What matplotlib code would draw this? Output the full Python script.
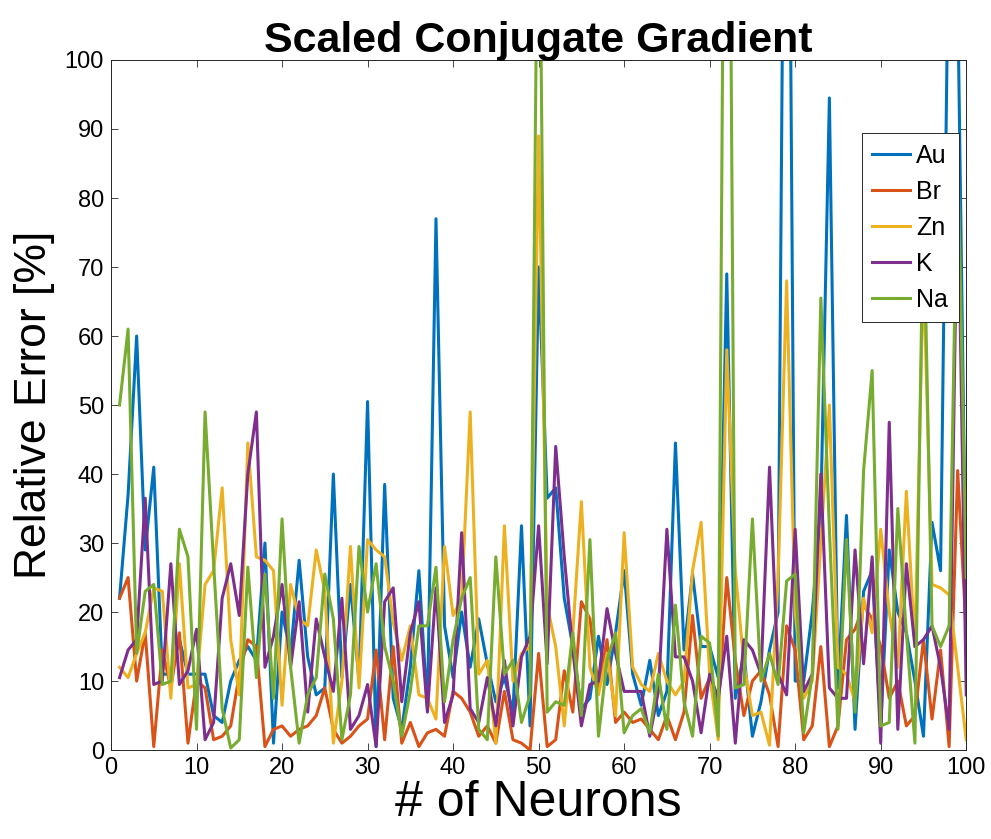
import matplotlib
matplotlib.use('Agg')
import matplotlib.pyplot as plt
import numpy as np

plt.rcParams['font.family'] = ['Liberation Sans', 'DejaVu Sans']

# 뉴런 개수별 상대 오차 [%]
neurons = list(range(1, 101))

au = [22, 37, 60, 29, 41, 11, 11, 16, 11, 11,
      11, 5, 4, 10, 13, 15, 13, 30, 1, 20,
      14, 27.5, 13.5, 8, 9, 40, 10.5, 24, 10, 50.5,
      0.5, 38.5, 7.5, 3, 12, 26, 6, 77, 18, 10.5,
      20, 12, 19, 12.5, 7, 10.5, 5.5, 32.5, 3.5, 70,
      36.5, 38, 22, 15, 6, 7.5, 16.5, 9.5, 17, 26,
      11, 6.5, 13, 5, 8.5, 44.5, 14.5, 25.5, 15, 15,
      10.5, 69, 7.5, 14, 2, 7, 14.5, 20, 185, 10,
      10, 20, 35, 94.5, 9, 34, 3, 23, 26, 3.5,
      29, 20, 17, 10, 2, 33, 26, 125, 110, 20]

br = [22, 25, 10, 17, 0.5, 14.5, 9, 17, 1, 10,
      9, 1.5, 2, 3.5, 11, 16, 15, 0.5, 3, 3.5,
      2, 3, 3.5, 5, 9, 3, 1, 2, 3.5, 4.5,
      14.5, 1.5, 15, 1, 4, 0.5, 2.5, 3, 2, 8.5,
      7.5, 5.5, 2, 3.5, 1, 8.5, 1.5, 1, 0, 14,
      0.5, 1.5, 11.5, 5.5, 21.5, 19, 9, 16, 4, 5.5,
      4, 4.5, 3, 1.5, 5, 1.5, 5.5, 19.5, 7.5, 10.5,
      6, 25, 13, 5, 10, 11.5, 8, 0.5, 18, 14.5,
      1.5, 3.5, 15, 0.5, 3.5, 16, 17.5, 21, 19, 15,
      7.5, 10, 3.5, 5, 16, 4.5, 14.5, 0.5, 40.5, 17]

zn = [12, 10.5, 14, 17, 23.5, 23, 7.5, 27, 9, 9.5,
      24, 26, 38, 16, 8, 44.5, 28, 27.5, 26, 6.5,
      24, 19, 18, 29, 23, 1, 10, 29.5, 9, 30.5,
      29, 28, 18.5, 13, 18, 8, 7.5, 4.5, 29.5, 19.5,
      22, 49, 11, 13, 1, 32.5, 10, 14, 15, 89,
      21, 15, 3.5, 17, 36, 12, 8, 14, 5, 31.5,
      12, 9.5, 8.5, 14, 10, 8, 10, 26, 33, 11,
      1.5, 58, 26, 12.5, 5, 5.5, 0.7, 25, 68, 20,
      7.5, 10, 30, 50, 12, 11, 7, 22, 17, 32,
      20, 12, 37.5, 15, 70, 24, 23.5, 22.5, 12, 1.5]

k = [10.5, 14.5, 16, 36.5, 9.5, 10, 27, 9.5, 11.5, 17.5,
     1.5, 4, 22, 27, 19.5, 40, 49, 12, 16.5, 24,
     12, 21.5, 5.5, 19, 13.5, 8.5, 22, 3, 5, 9.5,
     0.5, 21.5, 23.5, 7, 17, 21.5, 5.5, 23.5, 4, 8,
     31.5, 6, 4, 10.5, 3.5, 13, 3.5, 13.5, 16.5, 32.5,
     12.5, 44, 28, 14.5, 3.5, 9.5, 10, 20.5, 14, 8.5,
     8.5, 8.5, 2, 8.5, 32, 13.5, 13.5, 10, 2.5, 11,
     7.5, 16.5, 1, 16, 14.5, 11, 41, 11, 8, 32,
     8.5, 11, 40, 9, 7.5, 7.5, 29, 12.5, 28, 1,
     47.5, 3, 27, 15, 16, 18, 12, 3, 85, 8]

na = [50, 61, 14, 23, 24, 9.5, 10, 32, 28, 3,
      49, 27, 6, 0.3, 1.5, 26.5, 10.5, 25.5, 7.5, 33.5,
      12, 1, 8, 10.5, 25.5, 19, 1.5, 8, 29.5, 20,
      27, 15, 10, 2, 8.5, 18, 18, 26.5, 7, 16,
      22, 25, 3, 1.5, 28, 11, 13, 4, 8, 140,
      5.5, 7, 6.5, 17, 5, 30.5, 2, 13, 17, 2.5,
      5, 6, 2.5, 11, 3, 21, 7, 2, 16.5, 15.5,
      2, 195, 9, 9.5, 33.5, 10, 14, 9.5, 24.5, 25.5,
      2.5, 11, 65.5, 32, 3, 30.5, 5.5, 40.5, 55, 3.5,
      4, 35, 17, 1, 80, 18, 15, 18, 88, 25]

series = [('Au', au, '#0072BD'),
          ('Br', br, '#D95319'),
          ('Zn', zn, '#EDB120'),
          ('K', k, '#7E2F8E'),
          ('Na', na, '#77AC30')]

fig = plt.figure(figsize=(9.91, 8.39), dpi=100)
ax = fig.add_axes([0.112, 0.106, 0.863, 0.8225])

for name, vals, color in series:
    ax.plot(neurons, vals, color=color, linewidth=2.2, label=name)

ax.set_xlim(0, 100)
ax.set_ylim(0, 100)
ax.set_xticks(np.arange(0, 101, 10))
ax.set_yticks(np.arange(0, 101, 10))
ax.tick_params(direction='in', length=5, width=0.6, top=True, right=True,
               labelsize=17, colors='#262626', labelcolor='black', pad=5)
for spine in ax.spines.values():
    spine.set_linewidth(0.7)
    spine.set_color('#262626')

ax.set_title('Scaled Conjugate Gradient', fontsize=31, fontweight='bold', pad=6)
ax.set_xlabel('# of Neurons', fontsize=36, labelpad=1)
ax.set_ylabel('Relative Error [%]', fontsize=32, labelpad=7)

leg = ax.legend(loc='upper right', bbox_to_anchor=(0.991, 0.894), fontsize=18,
                handlelength=1.5, handletextpad=0.25, labelspacing=0.48,
                borderpad=0.42, borderaxespad=0, fancybox=False, framealpha=1)
leg.get_frame().set_edgecolor('#262626')
leg.get_frame().set_linewidth(0.7)

fig.savefig('out.png', dpi=100, facecolor='white')
